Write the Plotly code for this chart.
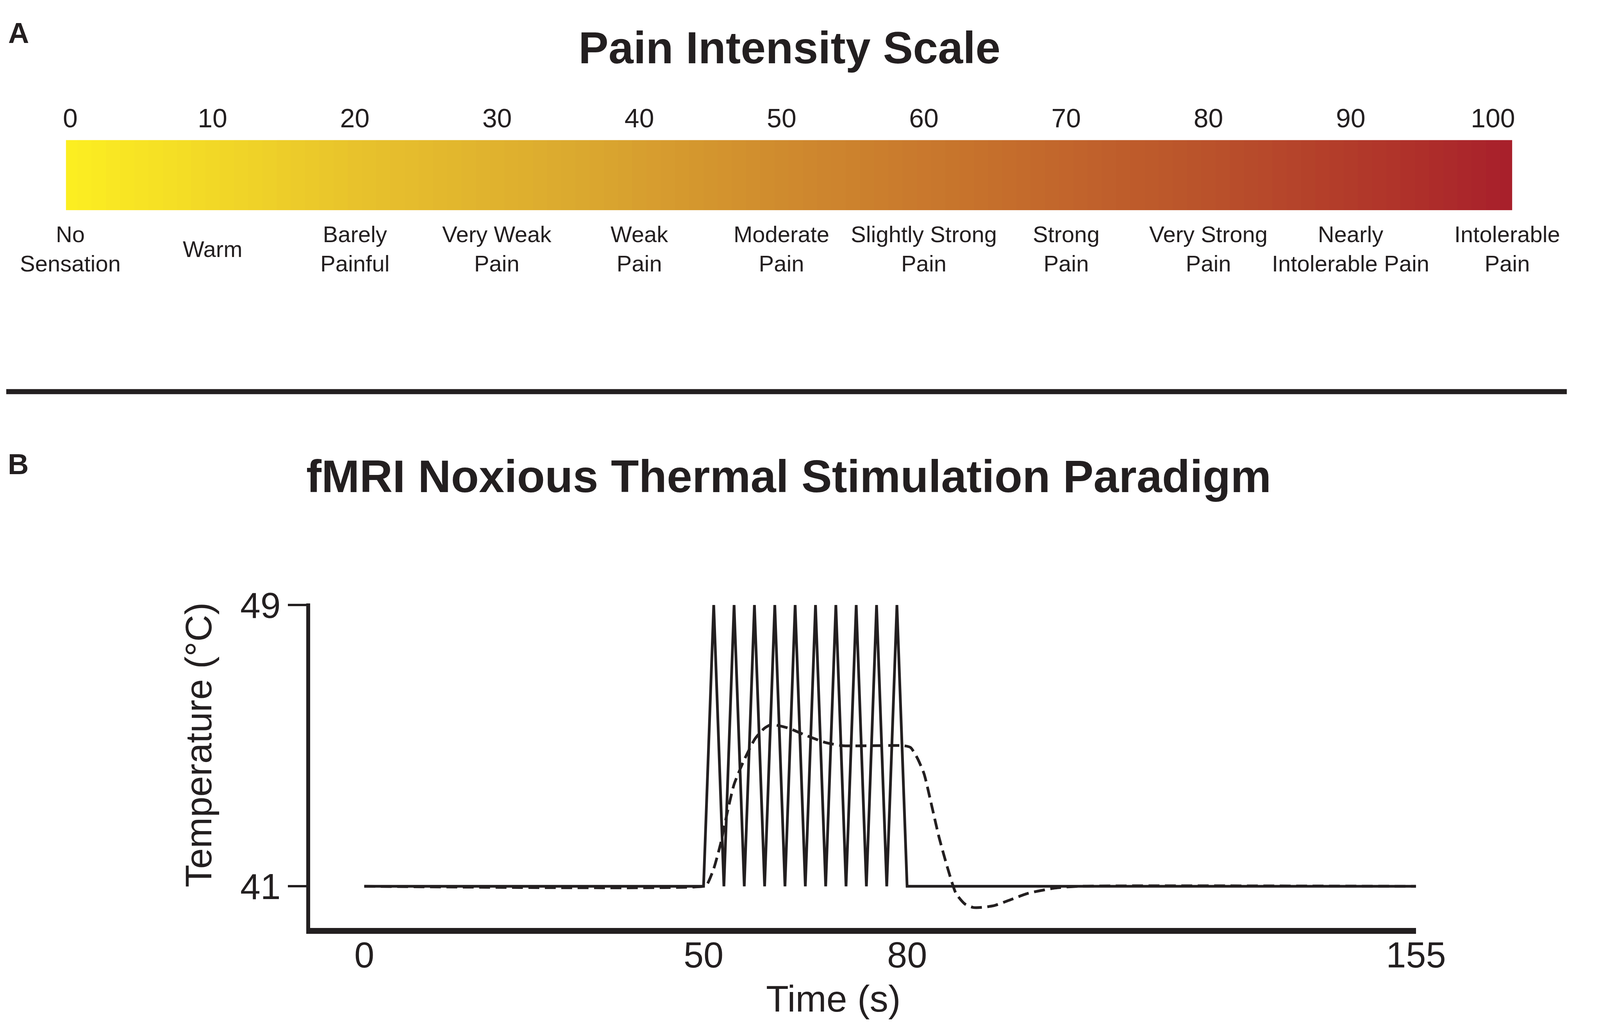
import plotly.graph_objects as go

# the reference is laid out on a 4317 x 2627 canvas; the page is shown in a
# 4096 px wide viewport with the default 8 px body margin, so the figure is
# sized to fit that and reference positions are mapped onto it
REF_W, REF_H = 4317, 2627
VIEW_W, VIEW_H = 4096, 2627
PAD = 8
FW, FH = VIEW_W - 2 * PAD, VIEW_H - 2 * PAD
KX = VIEW_W / REF_W

INK = "#231f20"
FONT = "Liberation Sans, Arial, sans-serif"

# ---- panel A: pain intensity scale ----
scale_ticks = [0, 10, 20, 30, 40, 50, 60, 70, 80, 90, 100]
scale_tick_labels = ["0", "10", "20", "30", "40", "50", "60", "70", "80", "90", "100"]
scale_descriptors = [
    "No<br>Sensation", "Warm", "Barely<br>Painful", "Very Weak<br>Pain", "Weak<br>Pain",
    "Moderate<br>Pain", "Slightly Strong<br>Pain", "Strong<br>Pain", "Very Strong<br>Pain",
    "Nearly<br>Intolerable Pain", "Intolerable<br>Pain",
]
scale_cells = list(range(0, 102))  # one cell per scale step, the bar runs a little past 100
scale_colors = [
    [0.0, "#fcee21"], [0.2, "#e8c22c"], [0.35, "#dba92f"], [0.5, "#cf8a2e"],
    [0.65, "#c56e2c"], [0.8, "#b9502b"], [0.92, "#b0342a"], [1.0, "#a8202b"],
]

# ---- panel B: stimulation paradigm ----
time_ticks = [0, 50, 80, 155]
temp_ticks = [41, 49]
# applied stimulus: 41 °C baseline, ten 3 s ramps to 49 °C between 50 and 80 s
stim_time = [0, 50, 51.5, 53, 54.5, 56, 57.5, 59, 60.5, 62, 63.5, 65, 66.5, 68,
             69.5, 71, 72.5, 74, 75.5, 77, 78.5, 80, 155]
stim_temp = [41, 41, 49, 41, 49, 41, 49, 41, 49, 41, 49, 41, 49, 41,
             49, 41, 49, 41, 49, 41, 49, 41, 41]
# perceived / skin temperature (dashed)
resp_time = [0, 50, 50.5, 51.5, 52.5, 53.5, 54.5, 56, 57.6, 59, 60, 62.5, 65, 67.8,
             70.5, 75, 79.5, 80.5, 81.5, 82.5, 83.5, 84.7, 86, 87.2, 88.5, 89.7, 91,
             92.8, 95, 97.8, 101.8, 105.3, 155]
resp_temp = [41, 41, 41.05, 41.5, 42.2, 43.1, 43.9, 44.6, 45.2, 45.5, 45.6, 45.5, 45.3, 45.1,
             45.0, 45.0, 45.0, 44.95, 44.65, 44.2, 43.4, 42.4, 41.5, 40.8, 40.5, 40.4, 40.4,
             40.45, 40.6, 40.8, 40.95, 41.0, 41]


def fx(x_ref):
    """reference x pixel -> paper x"""
    return min(max((x_ref * KX - PAD) / FW, 0), 1)


def fy(y_ref):
    """reference y pixel -> paper y"""
    return min(max(1 - (y_ref - PAD) / FH, 0), 1)


fig = go.Figure()

fig.add_trace(go.Heatmap(
    x=scale_cells, y=[0], z=[scale_cells],
    colorscale=scale_colors, zmin=0, zmax=101, showscale=False,
    hoverinfo="skip", xaxis="x", yaxis="y",
))

fig.add_trace(go.Scatter(
    x=stim_time, y=stim_temp, mode="lines",
    line=dict(color=INK, width=7), xaxis="x2", yaxis="y2", showlegend=False,
))
fig.add_trace(go.Scatter(
    x=resp_time, y=resp_temp, mode="lines",
    line=dict(color=INK, width=7, dash="28px,14px", shape="spline", smoothing=0.6),
    xaxis="x2", yaxis="y2", showlegend=False,
))

annotations = [
    dict(text="<b>Pain Intensity Scale</b>", x=fx(2167), y=fy(76), font=dict(size=115)),
    dict(text="<b>fMRI Noxious Thermal Stimulation Paradigm</b>", x=fx(2164), y=fy(1194),
         font=dict(size=117)),
    dict(text="<b>A</b>", x=fx(12), y=fy(38), xanchor="left", font=dict(size=74)),
    dict(text="<b>B</b>", x=fx(11), y=fy(1162), xanchor="left", font=dict(size=74)),
    dict(text="Temperature (°C)", x=fx(538), y=fy(1894), textangle=-90, font=dict(size=95)),
    dict(text="Time (s)", x=fx(2288), y=fy(2556), font=dict(size=95)),
]
for i, (val, label) in enumerate(zip(scale_ticks, scale_descriptors)):
    annotations.append(dict(
        text=label, x=val, xref="x", y=fy(601), font=dict(size=58),
        xshift=37 if i == len(scale_ticks) - 1 else 0,
    ))
for a in annotations:
    a.setdefault("xref", "paper")
    a.setdefault("yref", "paper")
    a.setdefault("xanchor", "center")
    a.setdefault("yanchor", "middle")
    a["showarrow"] = False
    a["font"].update(family=FONT, color=INK)

fig.update_layout(
    width=FW, height=FH,
    margin=dict(l=0, r=0, t=0, b=0),
    paper_bgcolor="white", plot_bgcolor="white",
    font=dict(family=FONT, color=INK),
    showlegend=False,
    xaxis=dict(
        domain=[fx(173), fx(4158)], range=[-0.3, 101.35],
        side="top", anchor="y", tickvals=scale_ticks, ticktext=scale_tick_labels,
        ticks="outside", ticklen=4, tickcolor="rgba(0,0,0,0)",
        tickfont=dict(size=68, family=FONT, color=INK),
        showgrid=False, zeroline=False, showline=False,
    ),
    yaxis=dict(
        domain=[fy(500), fy(317)], range=[-0.5, 0.5], visible=False, anchor="x",
    ),
    xaxis2=dict(
        domain=[fx(846), fx(3893)], range=[-7.97, 155], anchor="y2",
        tickvals=time_ticks, ticktext=[str(t) for t in time_ticks],
        ticks="", ticklabelstandoff=-25,
        tickfont=dict(size=92, family=FONT, color=INK),
        showline=True, linewidth=15, linecolor=INK,
        showgrid=False, zeroline=False,
    ),
    yaxis2=dict(
        domain=[fy(2372), fy(1525)], range=[39.81, 49.05], anchor="x2",
        tickvals=temp_ticks, ticktext=[str(t) for t in temp_ticks],
        ticks="outside", ticklen=47, tickwidth=6, tickcolor=INK,
        tickfont=dict(size=93, family=FONT, color=INK),
        showline=True, linewidth=10, linecolor=INK,
        showgrid=False, zeroline=False,
    ),
    annotations=annotations,
    shapes=[dict(
        type="line", xref="paper", yref="paper",
        x0=fx(5), x1=fx(4310), y0=fy(973), y1=fy(973),
        line=dict(color=INK, width=13),
    )],
)

fig.write_html("out.html")
